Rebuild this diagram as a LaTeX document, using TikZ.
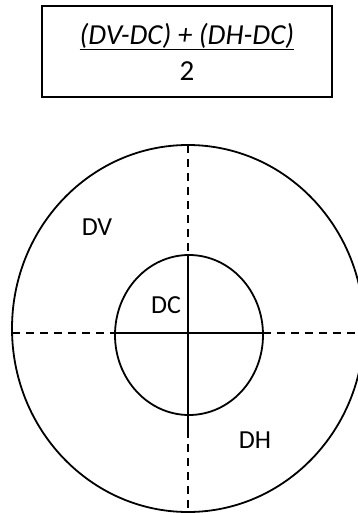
\documentclass[tikz,border=0pt]{standalone}
\usepackage{fontspec}
\setmainfont{Carlito}
\begin{document}
\begin{tikzpicture}[x=1pt, y=-1pt, line width=1.8pt,
  zone/.style={font=\fontsize{26}{30}\selectfont, inner sep=0pt},
  guide/.style={dash pattern=on 8pt off 6pt}]
  \useasboundingbox (0,0) rectangle (358,513);
  % formula box
  \node[draw, line width=2.2pt, minimum width=290pt, minimum height=91pt, inner sep=0pt,
        align=center, font=\fontsize{29}{36}\selectfont] (F) at (187,51.5)
        {\underline{\textit{(DV-DC) + (DH-DC)}}\\2};
  % rings
  \draw (188,328.5) ellipse [x radius=176pt, y radius=183.5pt];
  \draw (189,335) ellipse [x radius=74pt, y radius=80pt];
  % axes
  \coordinate (Ot) at (188,145);
  \coordinate (It) at (188,255);
  \coordinate (Ib) at (188,430);
  \coordinate (Ob) at (188,512);
  \coordinate (Ol) at (12,333);
  \coordinate (Il) at (115,333);
  \coordinate (Ir) at (263,333);
  \coordinate (Or) at (358,333);
  \draw[guide] (Ot) -- (It);
  \draw (It) -- (Ib);
  \draw[guide] (Ib) -- (Ob);
  \draw[guide] (Ol) -- (Il);
  \draw (Il) -- (Ir);
  \draw[guide] (Ir) -- (Or);
  % zone names
  \node[zone] (DV) at (97,227) {DV};
  \node[zone] (DC) at (166,305) {DC};
  \node[zone] (DH) at (255,440) {DH};
\end{tikzpicture}
\end{document}
